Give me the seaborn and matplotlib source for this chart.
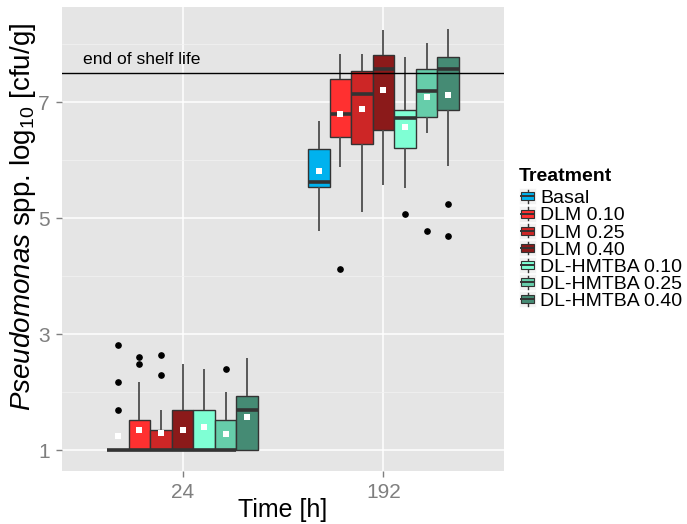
import matplotlib
matplotlib.use("Agg")
import matplotlib.pyplot as plt
from matplotlib.legend_handler import HandlerBase
from matplotlib.patches import Rectangle, Patch
from matplotlib.lines import Line2D
import numpy as np
import pandas as pd
import seaborn as sns

# ---- data -------------------------------------------------------------
times = ["24", "192"]
treatments = ["Basal", "DLM 0.10", "DLM 0.25", "DLM 0.40",
              "DL-HMTBA 0.10", "DL-HMTBA 0.25", "DL-HMTBA 0.40"]
colors = ["#00B2EE", "#FF3030", "#CD2626", "#8B1A1A",
          "#7FFFD4", "#66CDAA", "#458B74"]

# (lower whisker, Q1, median, Q3, upper whisker) per treatment
summary_24 = [
    (1.00, 1.00, 1.00, 1.00, 1.00),
    (1.00, 1.00, 1.00, 1.53, 2.18),
    (1.00, 1.00, 1.00, 1.35, 1.70),
    (1.00, 1.00, 1.00, 1.70, 2.49),
    (1.00, 1.00, 1.00, 1.70, 2.40),
    (1.00, 1.00, 1.00, 1.53, 2.01),
    (1.00, 1.00, 1.70, 1.93, 2.59),
]
summary_192 = [
    (4.79, 5.54, 5.62, 6.19, 6.68),
    (5.89, 6.40, 6.80, 7.41, 7.84),
    (5.11, 6.29, 7.14, 7.54, 7.84),
    (5.58, 6.53, 7.58, 7.82, 8.24),
    (5.52, 6.22, 6.73, 6.87, 7.79),
    (6.47, 6.74, 7.20, 7.57, 8.02),
    (5.91, 6.87, 7.58, 7.78, 8.27),
]
outliers_24 = [[1.70, 2.18, 2.81], [2.49, 2.61], [2.30, 2.65], [], [], [2.40], []]
outliers_192 = [[], [4.12], [], [], [5.07], [4.79], [5.25, 4.69]]

means_24 = [1.25, 1.36, 1.30, 1.35, 1.40, 1.28, 1.58]
means_192 = [5.81, 6.80, 6.88, 7.22, 6.57, 7.09, 7.12]

shelf_life = 7.5


def summary_sample(stats, outliers, m=4):
    """Ordered sample of 4m+1 values whose quartiles, whisker ends and
    outliers reproduce the given box summary."""
    lo, q1, med, q3, hi = stats
    low_out = sorted(o for o in outliers if o < q1)
    high_out = sorted(o for o in outliers if o > q3)
    lower = low_out + [lo] * (m - len(low_out))
    upper = [hi] * (m - len(high_out)) + high_out
    return (lower + [q1] + [q1] * (m - 1) + [med] + [q3] * (m - 1)
            + [q3] + upper)


rows = []
for t, summ, outs in [("24", summary_24, outliers_24),
                      ("192", summary_192, outliers_192)]:
    for trt, s, o in zip(treatments, summ, outs):
        for v in summary_sample(s, o):
            rows.append({"Time": t, "Treatment": trt, "value": v})
df = pd.DataFrame(rows)

means_df = pd.DataFrame({
    "Time": ["24"] * len(treatments) + ["192"] * len(treatments),
    "Treatment": treatments * 2,
    "mean": means_24 + means_192,
})

# ---- style ------------------------------------------------------------
plt.rcParams["font.family"] = ["Liberation Sans", "DejaVu Sans"]
plt.rcParams["mathtext.fontset"] = "custom"
plt.rcParams["mathtext.rm"] = "Liberation Sans"
plt.rcParams["mathtext.it"] = "Liberation Sans:italic"
plt.rcParams["mathtext.bf"] = "Liberation Sans:bold"

W, H = 687, 524
fig = plt.figure(figsize=(W / 100, H / 100), dpi=100)
ax = fig.add_axes([62 / W, 1 - 471 / H, 442 / W, 464 / H])
ax.set_facecolor("#E5E5E5")
for sp in ax.spines.values():
    sp.set_visible(False)

box_width = 0.75
sns.boxplot(data=df, x="Time", y="value", hue="Treatment",
            order=times, hue_order=treatments, palette=colors,
            width=box_width, gap=0, dodge=True, saturation=1,
            linecolor="#333333", linewidth=1.0, whis=1.5,
            flierprops=dict(marker="o", markerfacecolor="black",
                            markeredgecolor="black", markersize=3.8),
            medianprops=dict(linewidth=2.6, color="#333333"),
            whiskerprops=dict(color="#4D4D4D", linewidth=1.3),
            capprops=dict(visible=False),
            legend=False, ax=ax)

n = len(treatments)
sns.pointplot(data=means_df, x="Time", y="mean", hue="Treatment",
              order=times, hue_order=treatments,
              palette=["white"] * n, dodge=box_width * (n - 1) / n,
              markers="s", linestyles="none", errorbar=None,
              markersize=4.3, markeredgewidth=0, legend=False, ax=ax)
for coll in ax.lines[-n:]:
    coll.set_zorder(6)

ax.axhline(shelf_life, color="black", linewidth=1.0, zorder=7)
ax.text(-0.494, 7.665, "end of shelf life", fontsize=12.6,
        ha="left", va="baseline", color="black", zorder=8)

ax.set_xlim(-0.6, 1.6)
ax.set_ylim(0.645, 8.645)
ax.set_yticks([1, 3, 5, 7])
ax.set_yticks([2, 4, 6, 8], minor=True)
ax.set_yticklabels(["1", "3", "5", "7"])
ax.grid(which="major", axis="both", color="white", linewidth=1.1)
ax.grid(which="minor", axis="y", color="#F2F2F2", linewidth=0.5)
ax.set_axisbelow(True)
ax.tick_params(which="major", length=4, width=1.0, color="#7F7F7F",
               labelcolor="#7F7F7F", labelsize=15, pad=5)
ax.tick_params(which="minor", length=0)

ax.set_xlabel("Time [h]", fontsize=18)
ax.xaxis.set_label_coords(0.5, (471 - 498) / 464)
ax.set_ylabel(r"$\mathit{Pseudomonas}$ spp. log$_{10}$ [cfu/g]", fontsize=20)
ax.yaxis.set_label_coords((38 - 62) / 442, (471 - 217) / 464)


class BoxKey(HandlerBase):
    def create_artists(self, legend, orig_handle, xdescent, ydescent,
                       width, height, fontsize, trans):
        x0, y0 = -xdescent, -ydescent
        bg = Rectangle((x0, y0), width, height, facecolor="#F2F2F2",
                       edgecolor="white", linewidth=0.5, transform=trans)
        wl = Line2D([x0 + width / 2] * 2, [y0 + 0.1 * height, y0 + 0.9 * height],
                    color="#333333", linewidth=1.0, transform=trans)
        bx = Rectangle((x0 + 0.1 * width, y0 + 0.25 * height), 0.8 * width,
                       0.5 * height, facecolor=orig_handle.get_facecolor(),
                       edgecolor="#333333", linewidth=0.8, transform=trans)
        md = Line2D([x0 + 0.1 * width, x0 + 0.9 * width], [y0 + 0.5 * height] * 2,
                    color="#333333", linewidth=1.4, transform=trans)
        return [bg, wl, bx, md]


handles = [Patch(facecolor=c, edgecolor="#333333") for c in colors]
leg = fig.legend(handles, treatments, title="Treatment",
                 loc="upper left", bbox_to_anchor=(519 / W, 1 - 168 / H),
                 frameon=False, fontsize=14,
                 title_fontproperties={"weight": "bold", "size": 14},
                 handlelength=0.88, handleheight=0.89, handletextpad=0.2,
                 labelspacing=-0.08, borderpad=0, borderaxespad=0,
                 alignment="left", handler_map={Patch: BoxKey()})
# a little more room between the legend title and its entries
leg._legend_box.sep = 2.5

fig.savefig("out.png", dpi=100)
